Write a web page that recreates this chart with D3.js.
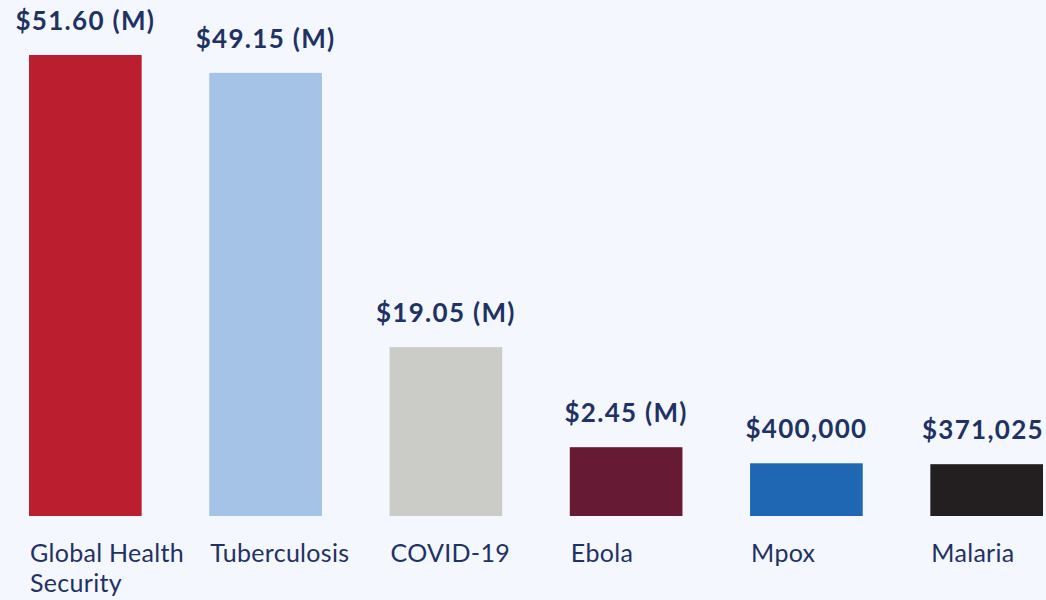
<!DOCTYPE html>
<meta charset="utf-8">
<html>
    <head>
        <title>Funding by program</title>
        <style>
            body { margin: 0; background: #f4f7fd; }
            svg { display: block; }
            .value { font-family: Lato, "Noto Sans", sans-serif; font-weight: 700; fill: #1f3264; letter-spacing: 1.3px; }
            .cat { font-family: Lato, "Noto Sans", sans-serif; fill: #1f3264; letter-spacing: 0.3px; }
        </style>
    </head>

    <body>
        <div id="viz"></div>

        <script src="https://cdnjs.cloudflare.com/ajax/libs/d3/7.8.5/d3.min.js"></script>
        <script>
            var categories = ["Global Health|Security", "Tuberculosis", "COVID-19", "Ebola", "Mpox", "Malaria"];
            var valueLabels = ["$51.60 (M)", "$49.15 (M)", "$19.05 (M)", "$2.45 (M)", "$400,000", "$371,025"];
            // bar heights as drawn in the original (millions); the small ones are not to scale there
            var barValues = [51.6, 49.6, 18.9, 7.7, 5.9, 5.8];
            var colors = ["#bb1f2f", "#a5c3e6", "#cbccc7", "#661a33", "#2067b3", "#231f20"];

            var width = 1046, height = 600;

            var svg = d3.select("#viz")
                .append("svg")
                .attr("width", width)
                .attr("height", height);

            var x = d3.scaleBand()
                .domain(d3.range(categories.length))
                .range([29, 1043])
                .paddingInner(0.375)
                .paddingOuter(0);

            var y = d3.scaleLinear()
                .domain([0, 51.6])
                .range([516, 55]);

            svg.selectAll("rect")
                .data(barValues)
                .enter()
                .append("rect")
                .attr("x", function (d, i) { return x(i); })
                .attr("y", function (d) { return y(d); })
                .attr("width", x.bandwidth())
                .attr("height", function (d) { return y(0) - y(d); })
                .attr("fill", function (d, i) { return colors[i]; });

            svg.selectAll("text.value")
                .data(barValues)
                .enter()
                .append("text")
                .attr("class", "value")
                .attr("x", function (d, i) { return x(i) + x.bandwidth() / 2; })
                .attr("y", function (d) { return y(d) - 25; })
                .attr("text-anchor", "middle")
                .attr("font-size", 26)
                .text(function (d, i) { return valueLabels[i]; })
                .each(function () {
                    // keep the last label inside the frame
                    var w = this.getComputedTextLength();
                    var cx = +this.getAttribute("x");
                    if (cx + w / 2 > width - 2) {
                        this.setAttribute("x", width - 2 - w / 2);
                    }
                });

            var cats = svg.selectAll("text.cat")
                .data(categories)
                .enter()
                .append("text")
                .attr("class", "cat")
                .attr("x", function (d, i) { return x(i) + 1; })
                .attr("y", 562)
                .attr("font-size", 25);

            cats.selectAll("tspan")
                .data(function (d) { return d.split("|"); })
                .enter()
                .append("tspan")
                .attr("x", function () { return this.parentNode.getAttribute("x"); })
                .attr("dy", function (d, i) { return i == 0 ? 0 : 30; })
                .text(function (d) { return d; });
        </script>
    </body>
</html>
